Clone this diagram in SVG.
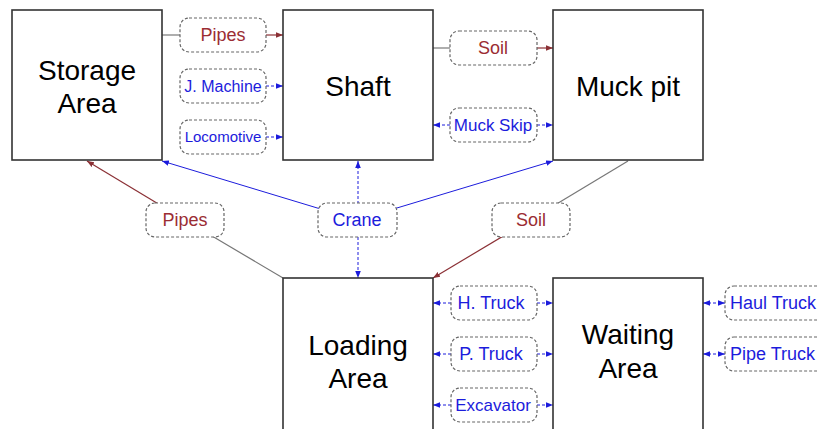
<svg xmlns="http://www.w3.org/2000/svg" width="817" height="429" viewBox="0 0 817 429">
<defs>
<marker id="ar" viewBox="0 0 10 10" refX="10" refY="5" markerWidth="7" markerHeight="7" orient="auto-start-reverse" markerUnits="userSpaceOnUse"><path d="M0,1 L10,5 L0,9 z" fill="#8b3035"/></marker>
<marker id="ab" viewBox="0 0 10 10" refX="10" refY="5" markerWidth="7" markerHeight="7" orient="auto-start-reverse" markerUnits="userSpaceOnUse"><path d="M0,1 L10,5 L0,9 z" fill="#1c1cdc"/></marker>
<style>
.node rect{fill:#fff;stroke:#333;stroke-width:1.6}
.node text{font-family:"Liberation Sans",Arial,sans-serif;font-size:28px;fill:#000;text-anchor:middle}
.lab rect{fill:#fff;stroke:#666;stroke-width:1.2;stroke-dasharray:3,2}
.lab text{font-family:"Liberation Sans",Arial,sans-serif;font-size:18px;text-anchor:middle}
.red text{fill:#9b2d33}
.blue text{fill:#1c1cdc}
.g{stroke:#777;stroke-width:1.2;fill:none}
.r{stroke:#8b3035;stroke-width:1.2;fill:none;marker-end:url(#ar)}
.b{stroke:#1c1cdc;stroke-width:1;fill:none;marker-end:url(#ab)}
.bd{stroke:#1c1cdc;stroke-width:1;fill:none;stroke-dasharray:3,2;marker-end:url(#ab)}
.bb{stroke:#1c1cdc;stroke-width:1;fill:none;stroke-dasharray:3,2;marker-end:url(#ab);marker-start:url(#ab)}
</style>
</defs>
<rect width="817" height="429" fill="#fff"/>
<g id="connectors">
<line class="g" x1="162" y1="35" x2="180" y2="35"/>
<line class="r" x1="266" y1="35" x2="283" y2="35"/>
<line class="bd" x1="266" y1="86" x2="283" y2="86"/>
<line class="bd" x1="266" y1="137" x2="283" y2="137"/>
<line class="g" x1="433" y1="48" x2="450" y2="48"/>
<line class="r" x1="537" y1="48" x2="553" y2="48"/>
<line class="bd" x1="450" y1="125" x2="433" y2="125"/>
<line class="bd" x1="537" y1="125" x2="553" y2="125"/>
<line class="g" x1="283" y1="278" x2="185" y2="220"/>
<line class="r" x1="185" y1="220" x2="87" y2="161"/>
<line class="g" x1="628" y1="161" x2="530" y2="220"/>
<line class="r" x1="530" y1="220" x2="433" y2="278"/>
<line class="b" x1="357" y1="220" x2="162" y2="161"/>
<line class="b" x1="357" y1="220" x2="553" y2="161"/>
<line class="bd" x1="358" y1="204" x2="358" y2="161"/>
<line class="bd" x1="358" y1="237" x2="358" y2="278"/>
<line class="bd" x1="451" y1="303" x2="433" y2="303"/>
<line class="bd" x1="537" y1="303" x2="553" y2="303"/>
<line class="bd" x1="451" y1="354" x2="433" y2="354"/>
<line class="bd" x1="537" y1="354" x2="553" y2="354"/>
<line class="bd" x1="451" y1="405" x2="433" y2="405"/>
<line class="bd" x1="537" y1="405" x2="553" y2="405"/>
<line class="bb" x1="703" y1="303" x2="725" y2="303"/>
<line class="bb" x1="703" y1="354" x2="725" y2="354"/>
</g>
<g id="storage" class="node"><rect x="12" y="10" width="150" height="150"/><text x="87" y="80">Storage</text><text x="87" y="113">Area</text></g>
<g id="shaft" class="node"><rect x="283" y="10" width="150" height="150"/><text x="358" y="96">Shaft</text></g>
<g id="muckpit" class="node"><rect x="553" y="10" width="150" height="150"/><text x="628" y="96">Muck pit</text></g>
<g id="loading" class="node"><rect x="283" y="278" width="150" height="170"/><text x="358" y="355">Loading</text><text x="358" y="388">Area</text></g>
<g id="waiting" class="node"><rect x="553" y="278" width="150" height="170"/><text x="628" y="344">Waiting</text><text x="628" y="378">Area</text></g>
<g id="lab-pipes1" class="lab red"><rect x="180" y="18" width="86" height="34" rx="9"/><text x="223" y="41">Pipes</text></g>
<g id="lab-jmachine" class="lab blue"><rect x="180" y="69" width="86" height="34" rx="9"/><text x="223" y="92" style="font-size:16px">J. Machine</text></g>
<g id="lab-locomotive" class="lab blue"><rect x="180" y="120" width="86" height="34" rx="9"/><text x="223" y="142" style="font-size:15px">Locomotive</text></g>
<g id="lab-soil1" class="lab red"><rect x="450" y="31" width="87" height="34" rx="9"/><text x="493" y="54">Soil</text></g>
<g id="lab-muckskip" class="lab blue"><rect x="450" y="108" width="87" height="34" rx="9"/><text x="493" y="131" style="font-size:17px">Muck Skip</text></g>
<g id="lab-pipes2" class="lab red"><rect x="146" y="203" width="78" height="34" rx="9"/><text x="185" y="226">Pipes</text></g>
<g id="lab-crane" class="lab blue"><rect x="318" y="203" width="79" height="34" rx="9"/><text x="357" y="226">Crane</text></g>
<g id="lab-soil2" class="lab red"><rect x="492" y="203" width="78" height="34" rx="9"/><text x="531" y="226">Soil</text></g>
<g id="lab-htruck" class="lab blue"><rect x="451" y="286" width="86" height="34" rx="9"/><text x="491" y="309">H. Truck</text></g>
<g id="lab-ptruck" class="lab blue"><rect x="451" y="337" width="86" height="34" rx="9"/><text x="491" y="360">P. Truck</text></g>
<g id="lab-excavator" class="lab blue"><rect x="451" y="388" width="86" height="34" rx="9"/><text x="493" y="411" style="font-size:17px">Excavator</text></g>
<g id="lab-haultruck" class="lab blue"><rect x="725" y="286" width="110" height="34" rx="9"/><text x="730" y="309" style="text-anchor:start">Haul Truck</text></g>
<g id="lab-pipetruck" class="lab blue"><rect x="725" y="337" width="110" height="34" rx="9"/><text x="730" y="360" style="text-anchor:start">Pipe Truck</text></g>
</svg>
